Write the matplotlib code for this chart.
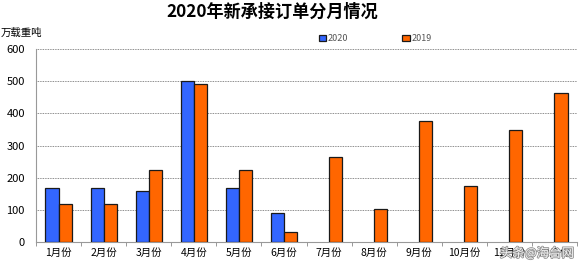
import numpy as np
import matplotlib
matplotlib.use('Agg')
import matplotlib.pyplot as plt
import matplotlib.patheffects as pe

plt.rcParams['font.family'] = ['Noto Sans CJK SC', 'DejaVu Sans']

months = ['1月份', '2月份', '3月份', '4月份', '5月份', '6月份',
          '7月份', '8月份', '9月份', '10月份', '11月份', '12月份']
orders_2020 = [167, 167, 158, 500, 169, 90, 0, 0, 0, 0, 0, 0]
orders_2019 = [118, 118, 225, 490, 224, 32, 263, 102, 376, 173, 348, 462]

fig = plt.figure(figsize=(5.8, 2.65), dpi=100)
ax = fig.add_axes([36 / 580, 23 / 265, 541 / 580, 193 / 265])

x = np.arange(len(months))
w = 0.29
n20 = 6  # 2020 only has data up to June
ax.bar(x[:n20] - w / 2, orders_2020[:n20], width=w, color='#3366FF',
       edgecolor='#1a1a1a', linewidth=0.9, label='2020', zorder=3)
ax.bar(x + w / 2, orders_2019, width=w, color='#FF6600',
       edgecolor='#1a1a1a', linewidth=0.9, label='2019', zorder=3)

ax.set_xlim(-0.5, len(months) - 0.5)
ax.set_ylim(0, 600)
ax.set_yticks(range(0, 601, 100))
ax.tick_params(axis='y', length=0, labelsize=8, pad=8)
ax.set_xticks(x)
ax.set_xticklabels(months, fontsize=7.5)
ax.tick_params(axis='x', length=0, pad=4)
ax.set_xticks(np.arange(-0.5, len(months), 1), minor=True)
ax.tick_params(axis='x', which='minor', length=3, color='#888888')
ax.yaxis.grid(True, linestyle=(0, (1, 1)), color='#666666', linewidth=0.6, zorder=0)
for s in ['top', 'right']:
    ax.spines[s].set_visible(False)
ax.spines['left'].set_color('#999999')
ax.spines['bottom'].set_color('#999999')

fig.text(0.47, 0.955, '2020年新承接订单分月情况', ha='center', va='center',
         fontsize=12.3, fontweight='bold')
fig.text(0.002, 0.875, '万载重吨', ha='left', va='center', fontsize=7.5)

leg = fig.legend(loc='center', bbox_to_anchor=(0.647, 0.855), ncol=2,
                 frameon=False, fontsize=6.5, handlelength=0.8, handleheight=0.6,
                 handletextpad=0.2, columnspacing=6)
for t in leg.get_texts():
    t.set_color('#555555')

# watermark sits over the last tick labels, as in the source image
fig.text(0.99, 0.045, '头条@海台网', ha='right', va='center', fontsize=9,
         color='white', alpha=0.9,
         path_effects=[pe.withStroke(linewidth=1.2, foreground='#888888')])

fig.savefig('out.png', dpi=100)
